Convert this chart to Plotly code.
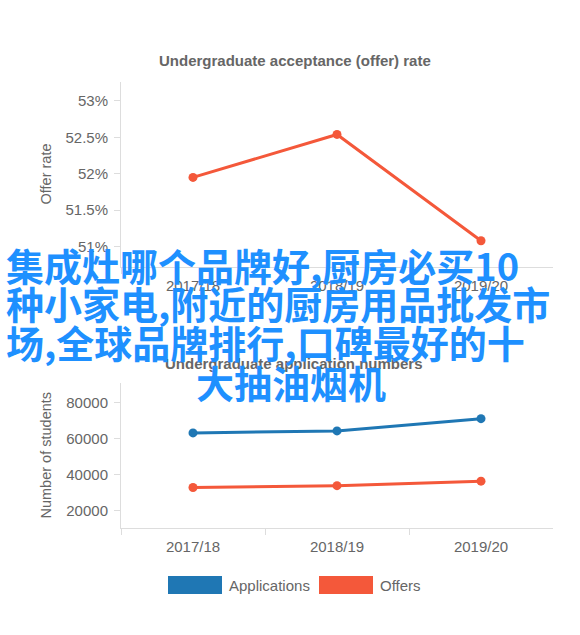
import plotly.graph_objects as go
from plotly.subplots import make_subplots

# ---- data ----
years = ["2017/18", "2018/19", "2019/20"]
offer_rate = [51.95, 52.54, 51.08]          # percent
applications = [63200, 64300, 71100]
offers = [32900, 33900, 36400]

rate_ticks = [51, 51.5, 52, 52.5, 53]
count_ticks = [20000, 40000, 60000, 80000]

overlay_lines = [
    "集成灶哪个品牌好,厨房必买10",
    "种小家电,附近的厨房用品批发市",
    "场,全球品牌排行,口碑最好的十",
    "大抽油烟机",
]
legend_names = ["Applications", "Offers"]

W, H = 580, 635
BLUE = "#1f77b4"
ORANGE = "#f4583a"
GRAY = "#666666"
AXIS = "#dddddd"
FONT = "Liberation Sans, Arial, sans-serif"


def px(x):
    return x / W


def py(y):
    return 1 - y / H


fig = make_subplots(rows=2, cols=1)

fig.add_trace(go.Scatter(x=years, y=offer_rate, mode="lines+markers",
                         line=dict(color=ORANGE, width=3),
                         marker=dict(size=9, color=ORANGE),
                         showlegend=False), row=1, col=1)
fig.add_trace(go.Scatter(x=years, y=applications, mode="lines+markers",
                         name=legend_names[0],
                         line=dict(color=BLUE, width=3),
                         marker=dict(size=9, color=BLUE),
                         showlegend=False), row=2, col=1)
fig.add_trace(go.Scatter(x=years, y=offers, mode="lines+markers",
                         name=legend_names[1],
                         line=dict(color=ORANGE, width=3),
                         marker=dict(size=9, color=ORANGE),
                         showlegend=False), row=2, col=1)

fig.update_xaxes(type="category", range=[-0.5, 2.5], showline=True, linecolor=AXIS,
                 linewidth=1, ticks="outside", tickson="boundaries", ticklen=6,
                 tickcolor=AXIS, showgrid=False, zeroline=False, ticklabelstandoff=5,
                 tickfont=dict(size=15, color=GRAY, family=FONT),
                 domain=[px(121), px(553)])

fig.update_yaxes(showline=True, linecolor=AXIS, linewidth=1, showgrid=False,
                 zeroline=False, ticks="outside", ticklen=6, tickcolor=AXIS,
                 ticklabelstandoff=3,
                 tickfont=dict(size=15, color=GRAY, family=FONT))
fig.update_yaxes(row=1, col=1, range=[50.72, 53.26], tickvals=rate_ticks,
                 ticktext=[f"{v:g}%" for v in rate_ticks],
                 domain=[py(267), py(82)])
fig.update_yaxes(row=2, col=1, range=[10400, 90900], tickvals=count_ticks,
                 ticktext=[str(v) for v in count_ticks],
                 domain=[py(528), py(383)])

annotations = [
    dict(text="<b>Undergraduate acceptance (offer) rate</b>", x=px(295), y=py(61),
         xref="paper", yref="paper", showarrow=False, xanchor="center", yanchor="middle",
         font=dict(size=15, color=GRAY, family=FONT)),
    dict(text="<b>Undergraduate application numbers</b>", x=px(294), y=py(363),
         xref="paper", yref="paper", showarrow=False, xanchor="center", yanchor="middle",
         font=dict(size=15, color=GRAY, family=FONT)),
    dict(text="Offer rate", x=px(45), y=py(174.5), textangle=-90,
         xref="paper", yref="paper", showarrow=False, xanchor="center", yanchor="middle",
         font=dict(size=14.5, color=GRAY, family=FONT)),
    dict(text="Number of students", x=px(45), y=py(455.5), textangle=-90,
         xref="paper", yref="paper", showarrow=False, xanchor="center", yanchor="middle",
         font=dict(size=14.5, color=GRAY, family=FONT)),
]

# legend drawn manually (rectangular swatches)
shapes = []
legend_items = [(legend_names[0], BLUE, 168), (legend_names[1], ORANGE, 319)]
for name, color, x0 in legend_items:
    shapes.append(dict(type="rect", xref="paper", yref="paper",
                       x0=px(x0), x1=px(x0 + 54), y0=py(594), y1=py(576),
                       fillcolor=color, line=dict(width=0)))
    annotations.append(dict(text=name, x=px(x0 + 59), y=py(585), xref="paper", yref="paper",
                            showarrow=False, xanchor="left", yanchor="middle",
                            font=dict(size=15, color=GRAY, family=FONT)))

# overlay text
line_y = [264, 303, 341, 381]
for i, (txt, yy) in enumerate(zip(overlay_lines, line_y)):
    last = i == len(overlay_lines) - 1
    annotations.append(dict(text=f"<b>{txt}</b>", x=px(291 if last else 4), y=py(yy),
                            xref="paper", yref="paper", showarrow=False,
                            xanchor="center" if last else "left", yanchor="middle",
                            font=dict(size=38, color="#1e90ff", family="Noto Sans CJK SC")))

fig.update_layout(width=W, height=H, margin=dict(l=0, r=0, t=0, b=0),
                  paper_bgcolor="white", plot_bgcolor="white",
                  annotations=annotations, shapes=shapes, showlegend=False,
                  font=dict(family=FONT, color=GRAY))

fig.write_html("out.html", config={"displayModeBar": False},
               post_script="document.body.style.margin='0';document.body.style.overflow='hidden';")
